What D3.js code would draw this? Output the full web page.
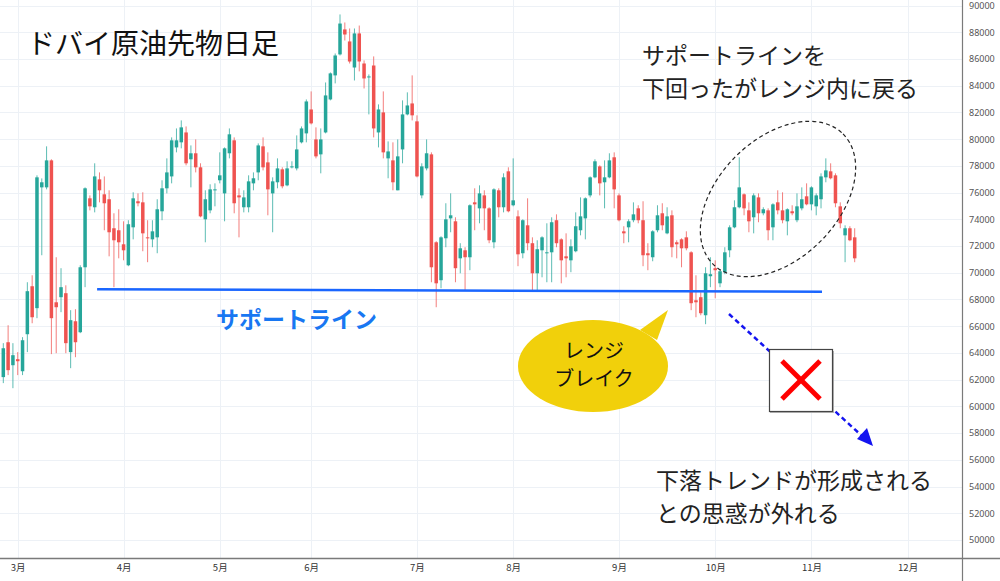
<!DOCTYPE html>
<html><head><meta charset="utf-8">
<script src="https://cdn.jsdelivr.net/npm/d3@7"></script>
<style>
html,body{margin:0;padding:0;background:#fff;}
svg{display:block;}
</style></head><body>
<svg id="chart" width="1000" height="581"></svg>
<script>
// ---- DATA (daily OHLC, yen) ----
const openP  = [62190,64800,63080,63530,62630,65400,68990,67350,76390,76390,78410,67790,68170,68470,64060,66370,65550,70410,75570,74900,76990,75870,75500,73330,73180,72130,70560,73400,75350,75270,72650,72500,72650,74600,76320,77210,79380,79760,80500,78490,78940,77890,74000,74670,76170,76920,75940,78940,79910,75790,74900,74900,76690,77510,79460,78260,75940,76770,77740,76540,77890,77810,79760,80430,82220,79980,78860,80500,82970,84770,86340,88210,87310,85360,87910,85660,84620,85510,80500,82000,78560,78410,76170,79230,81850,82670,81330,75790,77810,78860,72280,69440,72580,74070,73850,71080,71680,71160,75270,74820,75790,74820,72280,76170,74900,77590,75050,74220,71460,73550,72210,69960,71680,71460,71530,73930,72500,71230,70930,71610,73180,74070,75790,77140,77960,76770,77140,78640,75790,73100,73400,73930,74820,73930,71460,71160,73180,74450,72950,74300,72280,72500,72650,71530,67940,68170,66820,69740,70340,69210,70040,71680,73400,74900,75870,74670,74150,75640,74450,74670,73400,75270,74670,73850,74600,73930,74820,75720,75120,74970,75500,77140,77590,77290,74970,72800,73330,72650];
const highP  = [64730,66070,64730,64060,65180,69290,69810,77290,77060,79460,78490,71160,70340,69060,67200,67270,70560,76390,75790,78190,77510,77210,76170,74450,74750,73850,73930,76020,75940,76020,73930,73930,75500,76920,78560,80130,80800,81400,80950,79530,79980,78190,76170,76620,76690,79010,79380,80800,80130,76320,76170,77290,77510,79680,80130,79010,77140,78560,77890,78340,78340,80280,80950,82970,83570,80880,80800,84240,84990,86410,89330,88730,88280,88280,88500,85890,84840,86190,82600,83570,79830,79760,79980,82900,83500,84770,81780,78190,79980,79010,72360,72730,75200,75940,74150,72210,71910,75120,76320,76540,76170,74900,76320,76320,77440,77890,78560,74670,74000,75570,72650,72430,72730,73700,74150,74370,72580,72950,72500,74520,75640,75640,77210,78490,78040,78410,78940,79010,75940,73480,74000,75270,75050,75350,72210,73180,75050,75200,74900,74670,72430,72580,73100,71610,69810,68540,70410,71160,70930,70260,71910,73550,75420,78640,75940,75270,75940,75940,74900,74820,75200,76170,76020,74820,75050,75940,76390,76690,76470,75940,77440,78560,78190,77440,75270,73550,73480,73330];
const lowP   = [61740,62340,61360,62340,62340,64060,66220,66600,71310,76240,63910,63980,67050,63980,62860,63680,65480,68920,74670,74520,75270,73180,71230,68920,71080,70930,70490,72500,74970,71610,70790,71910,71460,73930,75940,76690,79010,79310,78040,76390,77510,74150,72280,74450,74970,76690,73850,78560,74450,72650,74520,74520,76170,76920,77660,74300,73030,76320,76320,76470,77810,77660,79680,79760,81100,78560,77440,80430,82900,84170,86260,87380,85660,84390,85070,83790,81850,80130,79380,78560,77070,76170,76170,78190,81780,81400,77140,75570,77660,69290,67420,68840,71910,73030,69290,69960,68690,70190,73180,73700,73180,72210,71830,74150,74520,74520,74970,70490,71080,71680,68690,68690,69660,69290,69290,71910,69210,69660,70040,71530,72800,72500,75640,77070,75790,74820,77070,74820,73850,72210,72280,73780,73700,70490,70190,70860,73030,73180,72880,71160,71080,70410,71680,67200,66670,66820,66150,68920,68090,68920,69890,71160,73330,74820,74300,73030,72950,73780,74300,72430,72430,74370,73700,72800,74300,73780,74670,75050,74670,74300,74820,76770,76990,74900,73330,70790,72360,70790];
const closeP = [64350,62710,63830,63380,64950,68620,66670,77140,76770,78410,66600,67420,68920,64730,66450,64800,70410,76320,74970,77210,76170,75200,73030,72430,72280,71680,73630,75570,75200,72950,72580,73100,74750,76320,77510,79910,79910,80880,78190,78940,77890,74220,75500,76240,76240,77290,79310,80360,75200,75640,75640,76840,77070,79530,77890,76240,76840,77810,76470,77810,77960,79230,80800,82820,81180,78710,79980,83270,84920,86260,88650,87830,85810,87910,85810,84540,84690,80800,82220,79010,79080,76770,78710,81850,82520,81780,77210,77960,78940,70410,69210,72650,74000,74300,70340,71830,71160,75050,75120,75940,74820,72430,76240,74900,77140,74600,75420,71380,73930,72210,69960,71760,72650,71530,73780,72210,70930,71080,71980,73480,74220,75570,77140,78340,76690,77140,78410,76240,73930,72950,73850,74370,73930,71310,71310,73100,74300,73550,74220,71910,72130,71830,71830,67720,67790,66970,69960,69890,70190,70110,71530,73400,74900,76390,74820,73850,75790,74450,74750,73180,75120,74670,73930,74750,74450,74970,75500,75120,76390,75790,77210,77660,77070,75200,73700,73330,72430,71080];
const monthLabels   = ["3月","4月","5月","6月","7月","8月","9月","10月","11月","12月"];
const monthStartBar = [3,25,45,64,86,106,128,148,168,188];
const priceTicks    = d3.range(50000, 90001, 2000);
const supportStart  = {bar: 19.5, price: 68770};
const supportEnd    = {bar: 170.2, price: 68580};

// ---- LAYOUT ----
const W = 1000, H = 581, plotR = 962, plotB = 558;
const svg = d3.select("#chart");
const x = d3.scaleLinear().domain([0, 177]).range([3.3, 854.7]);
const y = d3.scaleLinear().domain([50000, 90000]).range([540, 5.5]);
const UP = "#26a69a", DOWN = "#ef5350";
const jp = "'Noto Sans CJK JP','Noto Sans',sans-serif";

svg.append("rect").attr("width", W).attr("height", H).attr("fill", "#fff");

// grid
const grid = svg.append("g");
grid.selectAll("line.h").data(priceTicks).join("line")
  .attr("x1", 0).attr("x2", plotR)
  .attr("y1", d => Math.round(y(d)) + 0.5).attr("y2", d => Math.round(y(d)) + 0.5)
  .attr("stroke", "#edf1f6").attr("stroke-width", 1);
grid.selectAll("line.v").data(monthStartBar).join("line")
  .attr("y1", 0).attr("y2", plotB)
  .attr("x1", d => Math.round(x(d)) + 0.5).attr("x2", d => Math.round(x(d)) + 0.5)
  .attr("stroke", "#edf1f6").attr("stroke-width", 1);

// candles
const candles = openP.map((o, i) => ({i, o, h: highP[i], l: lowP[i], c: closeP[i]}));
const cg = svg.append("g");
cg.selectAll("line").data(candles).join("line")
  .attr("x1", d => x(d.i)).attr("x2", d => x(d.i))
  .attr("y1", d => y(d.h)).attr("y2", d => y(d.l))
  .attr("stroke", d => d.c >= d.o ? UP : DOWN).attr("stroke-opacity", 0.75).attr("stroke-width", 1);
cg.selectAll("rect").data(candles).join("rect")
  .attr("x", d => x(d.i) - 1.75).attr("width", 3.5)
  .attr("y", d => y(Math.max(d.o, d.c)))
  .attr("height", d => Math.max(1, Math.abs(y(d.o) - y(d.c))))
  .attr("fill", d => d.c >= d.o ? UP : DOWN);

// axes
const yAxis = d3.axisRight(y).tickValues(priceTicks).tickSize(0).tickPadding(7).tickFormat(d3.format("d"));
const ya = svg.append("g").attr("transform", `translate(${plotR},0)`).call(yAxis);
ya.select(".domain").remove();
ya.selectAll("text").attr("font-family", "'Noto Sans',sans-serif").attr("font-size", 9).attr("fill", "#555");

const xAxis = d3.axisBottom(x).tickValues(monthStartBar).tickFormat((d, i) => monthLabels[i]).tickSize(0).tickPadding(6);
const xa = svg.append("g").attr("transform", `translate(0,${plotB})`).call(xAxis);
xa.select(".domain").remove();
xa.selectAll("text").attr("font-family", jp).attr("font-size", 9.5).attr("fill", "#333");

svg.append("line").attr("x1", 0).attr("x2", W).attr("y1", plotB + 0.5).attr("y2", plotB + 0.5)
  .attr("stroke", "#7a7a7a").attr("stroke-width", 1.5);
svg.append("line").attr("x1", plotR + 0.5).attr("x2", plotR + 0.5).attr("y1", 0).attr("y2", H)
  .attr("stroke", "#7a7a7a").attr("stroke-width", 1.2);

// support line
svg.append("line")
  .attr("x1", x(supportStart.bar)).attr("y1", y(supportStart.price))
  .attr("x2", x(supportEnd.bar)).attr("y2", y(supportEnd.price))
  .attr("stroke", "#1a66ff").attr("stroke-width", 2.5);

// title
svg.append("text").attr("x", 27).attr("y", 54).attr("font-family", jp).attr("font-size", 28)
  .attr("fill", "#111").text("ドバイ原油先物日足");

// support label
svg.append("text").attr("x", 216).attr("y", 328).attr("font-family", jp).attr("font-size", 23)
  .attr("font-weight", 700).attr("fill", "#1877f2").text("サポートライン");

// top-right note
const note1 = svg.append("text").attr("font-family", jp).attr("font-size", 23).attr("fill", "#222");
note1.append("tspan").attr("x", 642).attr("y", 64).text("サポートラインを");
note1.append("tspan").attr("x", 642).attr("y", 97).text("下回ったがレンジ内に戻る");

// bottom-right note
const note2 = svg.append("text").attr("font-family", jp).attr("font-size", 23).attr("fill", "#222");
note2.append("tspan").attr("x", 656).attr("y", 489).text("下落トレンドが形成される");
note2.append("tspan").attr("x", 656).attr("y", 522).text("との思惑が外れる");

// dashed ellipse
svg.append("ellipse").attr("cx", 0).attr("cy", 0).attr("rx", 92).attr("ry", 60)
  .attr("transform", "translate(778,199) rotate(-45)")
  .attr("fill", "none").attr("stroke", "#222").attr("stroke-width", 1.2).attr("stroke-dasharray", "4,3");

// speech bubble
const bub = svg.append("g");
bub.append("path").attr("d", "M640,330 L668,310 L657,340 Z").attr("fill", "#f1d00b");
bub.append("ellipse").attr("cx", 593).attr("cy", 366).attr("rx", 75).attr("ry", 46).attr("fill", "#f1d00b");
const bt = bub.append("text").attr("font-family", jp).attr("font-size", 20).attr("fill", "#111").attr("text-anchor", "middle");
bt.append("tspan").attr("x", 594).attr("y", 358).text("レンジ");
bt.append("tspan").attr("x", 594).attr("y", 386).text("ブレイク");

// dashed arrow
svg.append("line").attr("x1", 729).attr("y1", 314).attr("x2", 862).attr("y2", 436)
  .attr("stroke", "#1414f0").attr("stroke-width", 2.5).attr("stroke-dasharray", "5,3.5");
svg.append("path").attr("d", "M873,446 L857,439 L867,428 Z").attr("fill", "#1414f0");

// cross box
svg.append("rect").attr("x", 770).attr("y", 351).attr("width", 64).attr("height", 62).attr("fill", "#b5b5b5");
svg.append("rect").attr("x", 769.5).attr("y", 349.5).attr("width", 63).attr("height", 62)
  .attr("fill", "#fff").attr("stroke", "#444").attr("stroke-width", 1.2);
svg.append("line").attr("x1", 782).attr("y1", 361).attr("x2", 820).attr("y2", 399).attr("stroke", "#ff0000").attr("stroke-width", 5);
svg.append("line").attr("x1", 820).attr("y1", 361).attr("x2", 782).attr("y2", 399).attr("stroke", "#ff0000").attr("stroke-width", 5);
</script>
</body></html>
